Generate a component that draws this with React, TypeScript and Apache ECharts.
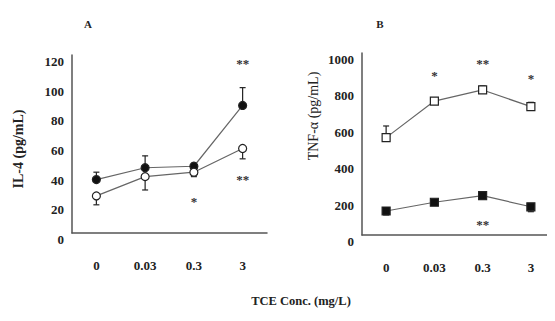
import React, { useEffect, useRef } from "react";
import * as echarts from "echarts";

const categories = ["0", "0.03", "0.3", "3"];

// Panel A: IL-4 (pg/mL)
const il4Filled = [36, 44, 45, 86];
const il4FilledErr = [5, 8, 2, 12];
const il4Open = [25, 38, 41, 57];
const il4OpenErr = [6, 9, 3, 7];
const il4Ticks = [0, 20, 40, 60, 80, 100, 120];
const il4Marks: [string, number, string][] = [
  ["0.3", 21, "*"],
  ["3", 114, "**"],
  ["3", 36, "**"],
];

// Panel B: TNF-α (pg/mL)
const tnfOpen = [535, 736, 797, 705];
const tnfOpenErr = [64, 12, 22, 24];
const tnfFilled = [132, 180, 216, 155];
const tnfFilledErr = [22, 12, 15, 27];
const tnfTicks = [0, 200, 400, 600, 800, 1000];
const tnfMarks: [string, number, string][] = [
  ["0.03", 879, "*"],
  ["0.3", 945, "**"],
  ["3", 861, "*"],
  ["0.3", 55, "**"],
];

const FONT = "'Liberation Serif', 'Times New Roman', serif";
const AXIS_COLOR = "#555";
const LINE_COLOR = "#666";
const TEXT_COLOR = "#222";

function errData(vals: number[], errs: number[], dir: number) {
  return vals.map((v, i) => [i, v, errs[i], dir]);
}

function errSeries(xi: number, yi: number, data: number[][]) {
  return {
    type: "custom",
    xAxisIndex: xi,
    yAxisIndex: yi,
    z: 1,
    silent: true,
    data,
    renderItem: (params: any, api: any) => {
      const x = api.value(0);
      const v = api.value(1);
      const e = api.value(2);
      const d = api.value(3);
      const p0 = api.coord([x, v]);
      const p1 = api.coord([x, v + d * e]);
      const st = { stroke: "#222", lineWidth: 1.2 };
      return {
        type: "group",
        children: [
          { type: "line", shape: { x1: p0[0], y1: p0[1], x2: p1[0], y2: p1[1] }, style: st },
          { type: "line", shape: { x1: p1[0] - 3, y1: p1[1], x2: p1[0] + 3, y2: p1[1] }, style: st },
        ],
      };
    },
  };
}

function lineSeries(xi: number, yi: number, data: number[], symbol: string, filled: boolean) {
  return {
    type: "line",
    xAxisIndex: xi,
    yAxisIndex: yi,
    z: 3,
    data,
    symbol,
    symbolSize: 8,
    lineStyle: { color: LINE_COLOR, width: 1.2 },
    itemStyle: {
      color: filled ? "#111" : "#fff",
      borderColor: "#222",
      borderWidth: 1.2,
    },
  };
}

function markSeries(xi: number, yi: number, marks: [string, number, string][]) {
  return {
    type: "custom",
    xAxisIndex: xi,
    yAxisIndex: yi,
    z: 4,
    silent: true,
    data: marks.map((m) => [categories.indexOf(m[0]), m[1]]),
    renderItem: (params: any, api: any) => {
      const p = api.coord([api.value(0), api.value(1)]);
      return {
        type: "text",
        x: p[0],
        y: p[1],
        style: {
          text: marks[params.dataIndex][2],
          fill: "#333",
          font: `bold 13px ${FONT}`,
          align: "center",
          verticalAlign: "middle",
        },
      };
    },
  };
}

function xAxis(gridIndex: number) {
  return {
    type: "category",
    gridIndex,
    data: categories,
    boundaryGap: true,
    axisLine: { onZero: false, lineStyle: { color: AXIS_COLOR, width: 1.5 } },
    axisTick: { show: false },
    axisLabel: {
      margin: 26,
      fontFamily: FONT,
      fontWeight: "bold",
      fontSize: 13,
      color: TEXT_COLOR,
    },
  };
}

function yAxis(gridIndex: number, min: number, max: number, ticks: number[]) {
  return {
    type: "value",
    gridIndex,
    min,
    max,
    splitLine: { show: false },
    axisLine: { show: true, lineStyle: { color: AXIS_COLOR, width: 1.5 } },
    axisTick: { show: false },
    axisLabel: {
      customValues: ticks,
      formatter: (v: number) => String(v),
      margin: 8,
      verticalAlign: "top",
      padding: [0, 0, 0, 0],
      fontFamily: FONT,
      fontWeight: "bold",
      fontSize: 13,
      color: TEXT_COLOR,
    },
  };
}

export default function App() {
  const ref = useRef<HTMLDivElement>(null);
  useEffect(() => {
    if (!ref.current) return;
    const chart = echarts.init(ref.current, null, { renderer: "svg" });
    chart.setOption({
      animation: false,
      backgroundColor: "#fff",
      grid: [
        { left: 72, top: 55, right: 288, bottom: 88 },
        { left: 362, top: 53, right: 0, bottom: 86 },
      ],
      xAxis: [xAxis(0), xAxis(1)],
      yAxis: [yAxis(0, 0, 120, il4Ticks), yAxis(1, 0, 1000, tnfTicks)],
      series: [
        errSeries(0, 0, errData(il4Filled, il4FilledErr, 1)),
        errSeries(0, 0, errData(il4Open, il4OpenErr, -1)),
        lineSeries(0, 0, il4Filled, "circle", true),
        lineSeries(0, 0, il4Open, "circle", false),
        markSeries(0, 0, il4Marks),
        errSeries(1, 1, errData(tnfOpen, tnfOpenErr, 1)),
        errSeries(1, 1, errData(tnfFilled, tnfFilledErr, -1)),
        lineSeries(1, 1, tnfOpen, "rect", false),
        lineSeries(1, 1, tnfFilled, "rect", true),
        markSeries(1, 1, tnfMarks),
      ],
      graphic: [
        {
          type: "text",
          x: 88,
          y: 24,
          style: { text: "A", fontFamily: FONT, fontWeight: "bold", fontSize: 11, fill: TEXT_COLOR, textAlign: "center", textVerticalAlign: "middle" },
        },
        {
          type: "text",
          x: 380,
          y: 24,
          style: { text: "B", fontFamily: FONT, fontWeight: "bold", fontSize: 11, fill: TEXT_COLOR, textAlign: "center", textVerticalAlign: "middle" },
        },
        {
          type: "text",
          x: 18,
          y: 149,
          rotation: Math.PI / 2,
          style: { text: "IL-4 (pg/mL)", fontFamily: FONT, fontWeight: "bold", fontSize: 14, fill: TEXT_COLOR, textAlign: "center", textVerticalAlign: "middle" },
        },
        {
          type: "text",
          x: 313,
          y: 116,
          rotation: Math.PI / 2,
          style: { text: "TNF-α (pg/mL)", fontFamily: FONT, fontWeight: "normal", fontSize: 14, fill: TEXT_COLOR, textAlign: "center", textVerticalAlign: "middle" },
        },
        {
          type: "text",
          x: 301,
          y: 301,
          style: { text: "TCE Conc. (mg/L)", fontFamily: FONT, fontWeight: "bold", fontSize: 12.5, fill: TEXT_COLOR, textAlign: "center", textVerticalAlign: "middle" },
        },
      ],
    });
    return () => chart.dispose();
  }, []);
  return <div ref={ref} style={{ width: 555, height: 321, margin: -8 }} />;
}
